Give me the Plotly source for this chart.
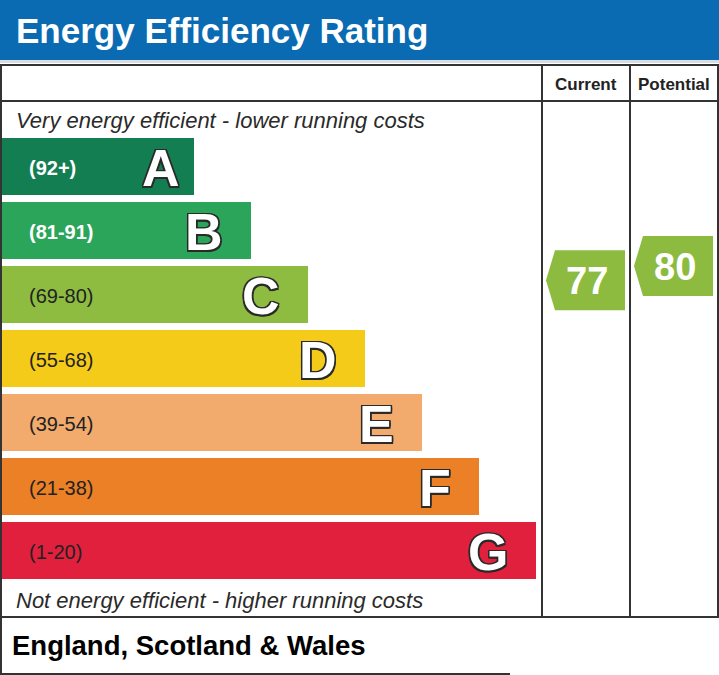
import plotly.graph_objects as go

# EPC rating bands
bands = ['A', 'B', 'C', 'D', 'E', 'F', 'G']
band_ranges = ['(92+)', '(81-91)', '(69-80)', '(55-68)', '(39-54)', '(21-38)', '(1-20)']
band_min = [92, 81, 69, 55, 39, 21, 1]
band_max = [100, 91, 80, 68, 54, 38, 20]
band_colors = ['#137e52', '#2ba55a', '#8dbc41', '#f5cb1a', '#f2aa6d', '#ec8026', '#e1203e']
range_text_colors = ['white', 'white', '#222222', '#222222', '#222222', '#222222', '#222222']

current_rating = 77
potential_rating = 80

W, H = 719, 675
FONT = 'Liberation Sans, Arial, sans-serif'

# pixel layout
bar_top0 = 138
bar_h = 57
bar_step = 64
bar_left = 2
col_cur = (542, 630)
col_pot = (630, 718)

tops = [bar_top0 + i * bar_step for i in range(len(bands))]
centers = [t + bar_h / 2 for t in tops]
lengths = [192 + 57 * i for i in range(len(bands))]

fig = go.Figure()

fig.add_trace(go.Bar(
    orientation='h', y=centers, x=lengths, base=bar_left, width=bar_h,
    marker=dict(color=band_colors, line=dict(width=0)),
    hoverinfo='skip', showlegend=False,
))


def rating_y(r):
    i = next(k for k in range(len(bands)) if band_min[k] <= r <= band_max[k])
    span = band_max[i] - band_min[i] + 1
    return tops[i] + (band_max[i] - r) / span * bar_h


def arrow(rating, col):
    cy = rating_y(rating)
    x0, x1 = col[0] + 4, col[1] - 5
    xs = [x0, x0 + 9, x1, x1, x0 + 9, x0]
    ys = [cy, cy - 30, cy - 30, cy + 30, cy + 30, cy]
    fig.add_trace(go.Scatter(
        x=xs, y=ys, fill='toself', fillcolor='#8cbb40', mode='lines',
        line=dict(width=0), hoverinfo='skip', showlegend=False,
    ))
    fig.add_annotation(x=(x0 + 9 + x1) / 2 - 3, y=cy + 1, text=str(rating), showarrow=False,
                       font=dict(family=FONT, size=38, color='white', weight='bold'))


arrow(current_rating, col_cur)
arrow(potential_rating, col_pot)

outline = ('-1.5px -1.5px 0 #2a2a2a, 1.5px -1.5px 0 #2a2a2a, -1.5px 1.5px 0 #2a2a2a, '
           '1.5px 1.5px 0 #2a2a2a, 0 1.5px 0 #2a2a2a, 0 -1.5px 0 #2a2a2a, 1.5px 0 0 #2a2a2a, -1.5px 0 0 #2a2a2a')

for i, b in enumerate(bands):
    fig.add_annotation(x=27, y=centers[i] + 1, text=band_ranges[i], xanchor='left', showarrow=False,
                       font=dict(family=FONT, size=20, color=range_text_colors[i],
                                 weight='bold' if i < 2 else 'normal'))
    gap = 12 if i == 0 else 26  # A sits closer to its short bar's end
    fig.add_annotation(x=bar_left + lengths[i] - gap, y=centers[i] + 1, text=b, xanchor='right',
                       showarrow=False,
                       font=dict(family=FONT, size=52, color='white', weight='bold', shadow=outline))

shapes = [
    dict(type='rect', x0=0, x1=W, y0=0, y1=60, fillcolor='#0a6ab2', line=dict(width=0), layer='below'),
    dict(type='rect', x0=0, x1=W, y0=60, y1=63, fillcolor='#d6dde5', line=dict(width=0), layer='below'),
    dict(type='rect', x0=1, x1=718, y0=65, y1=617, line=dict(color='#333333', width=2)),
    dict(type='line', x0=1, x1=718, y0=101, y1=101, line=dict(color='#333333', width=2)),
    dict(type='line', x0=col_cur[0], x1=col_cur[0], y0=65, y1=617, line=dict(color='#333333', width=2)),
    dict(type='line', x0=col_pot[0], x1=col_pot[0], y0=65, y1=617, line=dict(color='#333333', width=2)),
    dict(type='line', x0=1, x1=1, y0=617, y1=674, line=dict(color='#333333', width=2)),
    dict(type='line', x0=0, x1=510, y0=674, y1=674, line=dict(color='#333333', width=2)),
]

texts = [
    dict(x=14, y=30, text='Energy Efficiency Rating', font=dict(family=FONT, size=35, color='white', weight='bold')),
    dict(x=586, y=84, text='Current', xanchor='center', font=dict(family=FONT, size=17, color='#222222', weight='bold')),
    dict(x=674, y=84, text='Potential', xanchor='center', font=dict(family=FONT, size=17, color='#222222', weight='bold')),
    dict(x=14, y=120, text='Very energy efficient - lower running costs',
         font=dict(family=FONT, size=22, color='#2a2a2a', style='italic')),
    dict(x=14, y=600, text='Not energy efficient - higher running costs',
         font=dict(family=FONT, size=22, color='#2a2a2a', style='italic')),
    dict(x=10, y=645, text='England, Scotland &amp; Wales', font=dict(family=FONT, size=27.5, color='black', weight='bold')),
]
for t in texts:
    fig.add_annotation(showarrow=False, xanchor=t.pop('xanchor', 'left'), **t)

fig.update_layout(
    width=W, height=H, margin=dict(l=0, r=0, t=0, b=0),
    paper_bgcolor='white', plot_bgcolor='white',
    shapes=shapes, bargap=0,
    xaxis=dict(range=[0, W], visible=False, fixedrange=True),
    yaxis=dict(range=[H, 0], visible=False, fixedrange=True),
)

fig.write_html('out.html', config={'displayModeBar': False},
               post_script="document.body.style.margin='0';document.body.style.overflow='hidden';")
